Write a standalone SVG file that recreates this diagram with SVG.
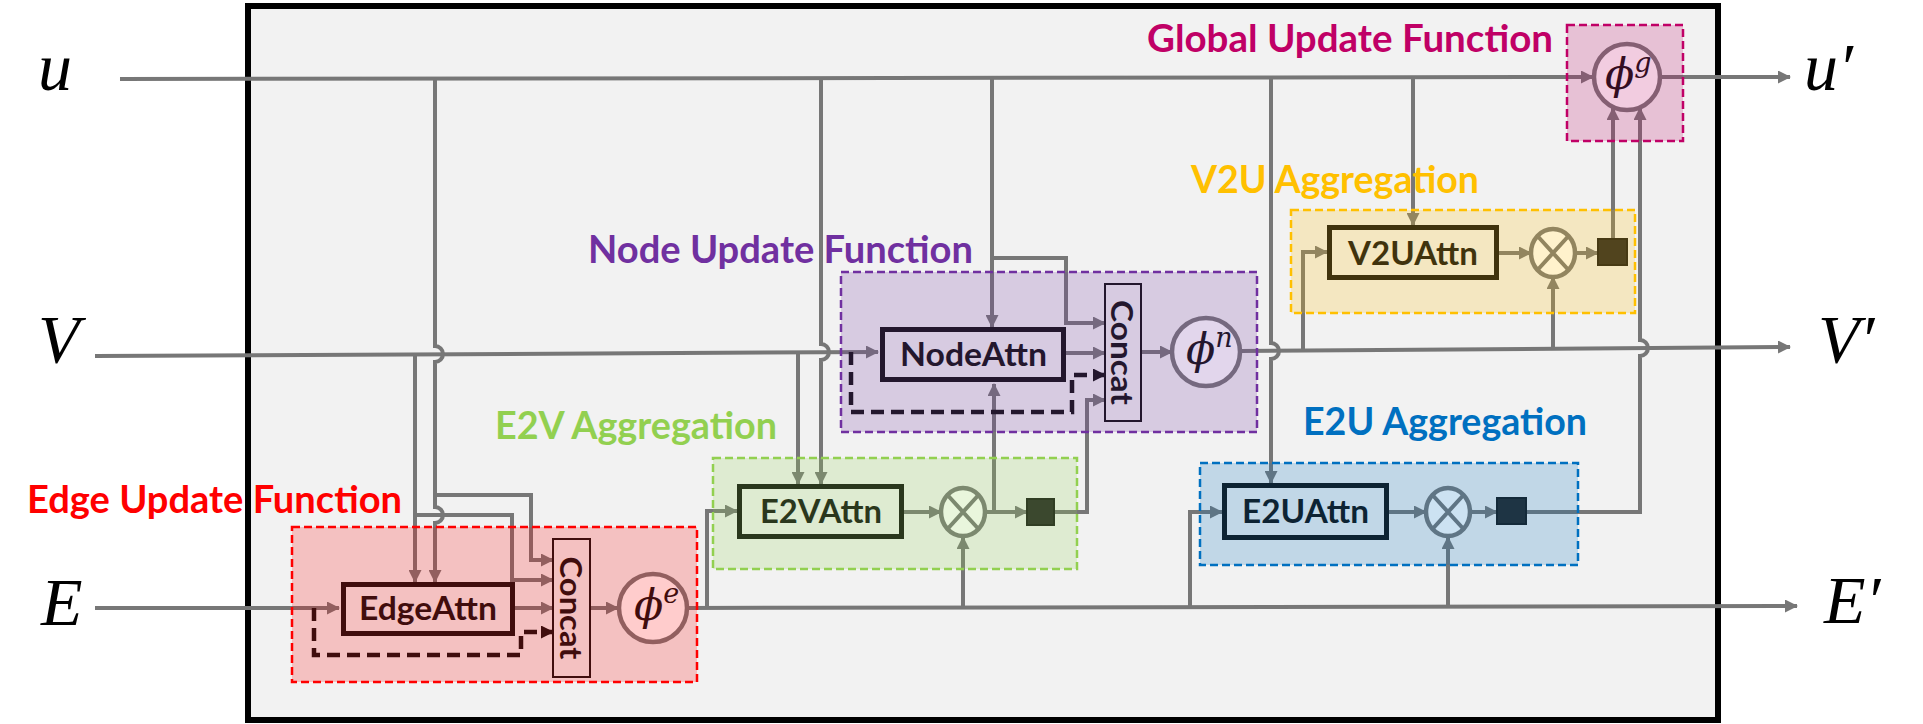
<svg xmlns="http://www.w3.org/2000/svg" width="1923" height="724" viewBox="0 0 1923 724">
<defs>
<style>
.ln{fill:none;stroke:#777;stroke-width:4}
.dl{fill:none;stroke:#111;stroke-width:4.5;stroke-dasharray:13 7}
.bx{fill:#f2f2f2;stroke:#111;stroke-width:5}
.cc{fill:none;stroke:#111;stroke-width:2}
.ci{fill:#fff;stroke:#777;stroke-width:4.5}
.sq{fill:#262626;stroke:#1a1a1a;stroke-width:2}
.lbl{font-family:Lato,"Open Sans","Liberation Sans",sans-serif;font-weight:700;font-size:38px}
.bt{font-family:Lato,"Open Sans","Liberation Sans",sans-serif;font-weight:700;font-size:33px;fill:#111}
.ct{font-family:Lato,"Open Sans","Liberation Sans",sans-serif;font-weight:700;font-size:31px;fill:#111}
.mt{font-family:"Liberation Serif","DejaVu Serif",serif;font-style:italic;fill:#000}
.ph{font-family:"DejaVu Serif","Liberation Serif",serif;font-style:italic;fill:#111;font-size:43px}
.ov{stroke-width:2.5;stroke-dasharray:8 4}
</style>
<marker id="ag" markerUnits="userSpaceOnUse" markerWidth="13" markerHeight="13" refX="12" refY="6.5" orient="auto"><path d="M0,0 L13,6.5 L0,13 z" fill="#777"/></marker>
<marker id="ak" markerUnits="userSpaceOnUse" markerWidth="13" markerHeight="13" refX="12" refY="6.5" orient="auto"><path d="M0,0 L13,6.5 L0,13 z" fill="#111"/></marker>
</defs>
<rect width="1923" height="724" fill="#fff"/>
<rect id="frame" x="248" y="6" width="1470" height="714" fill="#f2f2f2" stroke="#000" stroke-width="6"/>

<g id="connectors" marker-end="url(#ag)">
<path class="ln" d="M120,79 L1593,77"/>
<path class="ln" d="M1661,77 L1790,77"/>
<path class="ln" d="M95,356 L878,352"/>
<path class="ln" d="M1241,351 L1790,347"/>
<path class="ln" d="M95,608 L339,608"/>
<path class="ln" d="M688,608 L1797,606"/>
<path class="ln" d="M435,79 V346 A8,8 0 0 1 435,362 V507 A8,8 0 0 1 435,523 V582"/>
<path class="ln" d="M415,354 V582"/>
<path class="ln" d="M435,495 H531 V560 H553"/>
<path class="ln" d="M415,515 H512 V580 H553"/>
<path class="ln" d="M515,608 H553"/>
<path class="dl" marker-end="url(#ak)" d="M314,608 V655 H521 V632 H553"/>
<path class="ln" d="M590,608 H618"/>
<path class="ln" d="M707,608 V511 H737"/>
<path class="ln" d="M821,78 V344 A8,8 0 0 1 821,360 V484"/>
<path class="ln" d="M798,352 V484"/>
<path class="ln" d="M904,512 H941"/>
<path class="ln" d="M985,512 H1027"/>
<path class="ln" d="M963,607 V537"/>
<path class="ln" d="M994,512 V384"/>
<path class="ln" d="M1054,512 H1087 V400 H1105"/>
<path class="ln" d="M992,78 V327"/>
<path class="ln" d="M992,258 H1066 V323 H1105"/>
<path class="ln" d="M1066,353 H1105"/>
<path class="dl" marker-end="url(#ak)" d="M851,352 V412 H1072 V375 H1105"/>
<path class="ln" d="M1141,352 H1172"/>
<path class="ln" d="M1413,77 V225"/>
<path class="ln" d="M1303,350 V252 H1327"/>
<path class="ln" d="M1553,348 V277"/>
<path class="ln" d="M1499,253 H1531"/>
<path class="ln" d="M1575,253 H1598"/>
<path class="ln" d="M1613,239 V108"/>
<path class="ln" d="M1271,77 V343 A8,8 0 0 1 1271,359 V483"/>
<path class="ln" d="M1190,607 V512 H1222"/>
<path class="ln" d="M1448,607 V537"/>
<path class="ln" d="M1389,512 H1426"/>
<path class="ln" d="M1471,512 H1497"/>
<path class="ln" d="M1526,512 H1640 V356 A8,8 0 0 0 1640,340 V108"/>
</g>

<g id="edge-attn"><rect class="bx" x="343.5" y="584.5" width="169" height="49"/><text class="bt" x="359" y="620" textLength="138" lengthAdjust="spacingAndGlyphs">EdgeAttn</text></g>
<g id="edge-concat"><rect class="cc" x="553" y="539" width="37" height="138"/><text class="ct" transform="translate(571.5,608) rotate(90)" text-anchor="middle" dominant-baseline="central" textLength="103" lengthAdjust="spacingAndGlyphs">Concat</text></g>
<g id="phi-e"><circle class="ci" cx="653" cy="608" r="34"/><text class="ph" x="634" y="620">ϕ<tspan font-size="27" dy="-17">e</tspan></text></g>

<g id="node-attn"><rect class="bx" x="882.5" y="329.5" width="181" height="50"/><text class="bt" x="900" y="366" textLength="147" lengthAdjust="spacingAndGlyphs">NodeAttn</text></g>
<g id="node-concat"><rect class="cc" x="1105" y="284" width="36" height="137"/><text class="ct" transform="translate(1123,352.5) rotate(90)" text-anchor="middle" dominant-baseline="central" textLength="105" lengthAdjust="spacingAndGlyphs">Concat</text></g>
<g id="phi-n"><circle class="ci" cx="1206" cy="352" r="34"/><text class="ph" x="1186" y="364">ϕ<tspan font-size="27" dy="-17">n</tspan></text></g>

<g id="e2v-attn"><rect class="bx" x="739.5" y="486.5" width="162" height="50"/><text class="bt" x="760" y="523" textLength="122" lengthAdjust="spacingAndGlyphs">E2VAttn</text></g>
<g id="e2v-mul"><ellipse class="ci" cx="963" cy="512" rx="22" ry="24"/><path class="ln" d="M947.5,495 L978.5,529 M978.5,495 L947.5,529"/></g>
<g id="e2v-out"><rect class="sq" x="1027" y="499" width="27" height="26"/></g>

<g id="v2u-attn"><rect class="bx" x="1329.5" y="227.5" width="167" height="50"/><text class="bt" x="1348" y="265" textLength="130" lengthAdjust="spacingAndGlyphs">V2UAttn</text></g>
<g id="v2u-mul"><ellipse class="ci" cx="1553" cy="253" rx="22" ry="24"/><path class="ln" d="M1537.5,236 L1568.5,270 M1568.5,236 L1537.5,270"/></g>
<g id="v2u-out"><rect class="sq" x="1598" y="239" width="29" height="26"/></g>

<g id="e2u-attn"><rect class="bx" x="1224.5" y="485.5" width="162" height="52"/><text class="bt" x="1242" y="523" textLength="127" lengthAdjust="spacingAndGlyphs">E2UAttn</text></g>
<g id="e2u-mul"><ellipse class="ci" cx="1448" cy="512" rx="22" ry="24"/><path class="ln" d="M1432.5,495 L1463.5,529 M1463.5,495 L1432.5,529"/></g>
<g id="e2u-out"><rect class="sq" x="1497" y="498" width="29" height="26"/></g>

<g id="phi-g"><circle class="ci" cx="1627" cy="77" r="33"/><text class="ph" x="1605" y="89">ϕ<tspan font-size="27" dy="-17">g</tspan></text></g>

<g id="edge-update-function"><rect class="ov" x="292" y="527" width="405" height="155" fill="#ff0000" fill-opacity="0.2" stroke="#ff0000"/><text class="lbl" x="27" y="513" fill="#ff0000" textLength="375" lengthAdjust="spacingAndGlyphs">Edge Update Function</text></g>
<g id="node-update-function"><rect class="ov" x="841" y="272" width="416" height="160" fill="#7030a0" fill-opacity="0.2" stroke="#7030a0"/><text class="lbl" x="588" y="263" fill="#7030a0" textLength="385" lengthAdjust="spacingAndGlyphs">Node Update Function</text></g>
<g id="e2v-aggregation"><rect class="ov" x="713" y="458" width="364" height="111" fill="#92d050" fill-opacity="0.2" stroke="#92d050"/><text class="lbl" x="495" y="439" fill="#92d050" textLength="282" lengthAdjust="spacingAndGlyphs">E2V Aggregation</text></g>
<g id="v2u-aggregation"><rect class="ov" x="1291" y="210" width="344" height="103" fill="#ffc000" fill-opacity="0.2" stroke="#ffc000"/><text class="lbl" x="1191" y="193" fill="#ffc000" textLength="288" lengthAdjust="spacingAndGlyphs">V2U Aggregation</text></g>
<g id="e2u-aggregation"><rect class="ov" x="1200" y="463" width="378" height="102" fill="#0070c0" fill-opacity="0.2" stroke="#0070c0"/><text class="lbl" x="1303" y="435" fill="#0070c0" textLength="284" lengthAdjust="spacingAndGlyphs">E2U Aggregation</text></g>
<g id="global-update-function"><rect class="ov" x="1567" y="25" width="116" height="116" fill="#c00066" fill-opacity="0.2" stroke="#c00066"/><text class="lbl" x="1147" y="52" fill="#c00066" textLength="406" lengthAdjust="spacingAndGlyphs">Global Update Function</text></g>

<g id="io-labels" class="mt" font-size="68">
<text x="38" y="90">u</text>
<text x="38" y="362">V</text>
<text x="41" y="625">E</text>
<text x="1804" y="90">u′</text>
<text x="1818" y="362">V′</text>
<text x="1824" y="623">E′</text>
</g>
</svg>
